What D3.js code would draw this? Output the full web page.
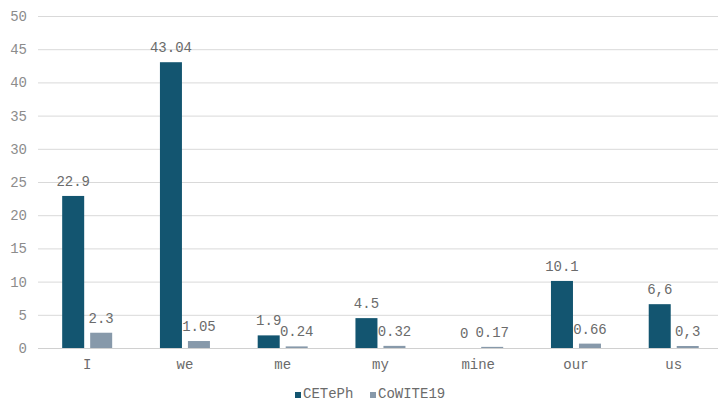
<!DOCTYPE html>
<html>
<head>
<meta charset="utf-8">
<script src="https://cdn.jsdelivr.net/npm/d3@7"></script>
<style>
  html, body { margin: 0; padding: 0; background: #fff; overflow: hidden; }
  svg { display: block; font-family: "Liberation Mono", "Courier New", monospace; }
</style>
</head>
<body>
<svg id="chart" width="718" height="401"></svg>
<script>
// Pronoun frequencies in two corpora
const categories = ["I", "we", "me", "my", "mine", "our", "us"];
const seriesNames = ["CETePh", "CoWITE19"];
const cetephValues = [22.9, 43.04, 1.9, 4.5, 0, 10.1, 6.6];
const cowiteValues = [2.3, 1.05, 0.24, 0.32, 0.17, 0.66, 0.3];
const cetephLabels = ["22.9", "43.04", "1.9", "4.5", "0", "10.1", "6,6"];
const cowiteLabels = ["2.3", "1.05", "0.24", "0.32", "0.17", "0.66", "0,3"];
const yTicks = [0, 5, 10, 15, 20, 25, 30, 35, 40, 45, 50];

const colors = { CETePh: "#135570", CoWITE19: "#8799aa" };

const svg = d3.select("#chart");
const plotLeft = 38, plotRight = 718, plotTop = 16, plotBottom = 348;

// Category band runs slightly past the right edge of the canvas
const x = d3.scaleBand().domain(categories).range([38.3, 722.6]);
const x1 = d3.scaleBand().domain(seriesNames).range([-25, 25]).paddingInner(0.214);
const y = d3.scaleLinear().domain([0, 50]).range([plotBottom, plotTop]);

// Horizontal gridlines
svg.append("g").selectAll("line")
  .data(yTicks.filter(t => t > 0))
  .join("line")
  .attr("x1", plotLeft).attr("x2", plotRight)
  .attr("y1", d => y(d) + 0.5).attr("y2", d => y(d) + 0.5)
  .attr("stroke", "#d9d9d9").attr("stroke-width", 1);

// Y tick labels
svg.append("g").selectAll("text")
  .data(yTicks)
  .join("text")
  .attr("x", 27).attr("y", d => y(d))
  .attr("dy", "0.35em")
  .attr("text-anchor", "end")
  .attr("font-size", 14)
  .attr("fill", "#8c8c8c")
  .text(d => d);

const rows = categories.map((c, i) => ({
  cat: c,
  items: [
    { s: "CETePh", v: cetephValues[i], label: cetephLabels[i] },
    { s: "CoWITE19", v: cowiteValues[i], label: cowiteLabels[i] }
  ]
}));

const groups = svg.append("g").selectAll("g")
  .data(rows)
  .join("g")
  .attr("transform", d => `translate(${x(d.cat) + x.bandwidth() / 2},0)`);

groups.selectAll("rect")
  .data(d => d.items)
  .join("rect")
  .attr("x", d => x1(d.s))
  .attr("width", x1.bandwidth())
  .attr("y", d => y(d.v))
  .attr("height", d => y(0) - y(d.v))
  .attr("fill", d => colors[d.s]);

groups.selectAll("text.val")
  .data(d => d.items)
  .join("text")
  .attr("class", "val")
  .attr("x", d => x1(d.s) + x1.bandwidth() / 2)
  .attr("y", d => y(d.v) - 10)
  .attr("text-anchor", "middle")
  .attr("font-size", 14)
  .attr("fill", "#6b6b6b")
  .text(d => d.label);

// Baseline axis
svg.append("line")
  .attr("x1", plotLeft).attr("x2", plotRight)
  .attr("y1", plotBottom + 0.5).attr("y2", plotBottom + 0.5)
  .attr("stroke", "#d0d0d0").attr("stroke-width", 1);

// Category labels
svg.append("g").selectAll("text")
  .data(categories)
  .join("text")
  .attr("x", d => x(d) + x.bandwidth() / 2)
  .attr("y", 369)
  .attr("text-anchor", "middle")
  .attr("font-size", 14)
  .attr("fill", "#6b6b6b")
  .text(d => d);

// Legend
const legendItems = [
  { s: "CETePh", x: 295 },
  { s: "CoWITE19", x: 370 }
];
const legend = svg.append("g").selectAll("g")
  .data(legendItems)
  .join("g")
  .attr("transform", d => `translate(${d.x},0)`);
legend.append("rect")
  .attr("x", 0).attr("y", 392)
  .attr("width", 6).attr("height", 6)
  .attr("fill", d => colors[d.s]);
legend.append("text")
  .attr("x", 8).attr("y", 398)
  .attr("font-size", 14)
  .attr("fill", "#6b6b6b")
  .text(d => d.s);
</script>
</body>
</html>
